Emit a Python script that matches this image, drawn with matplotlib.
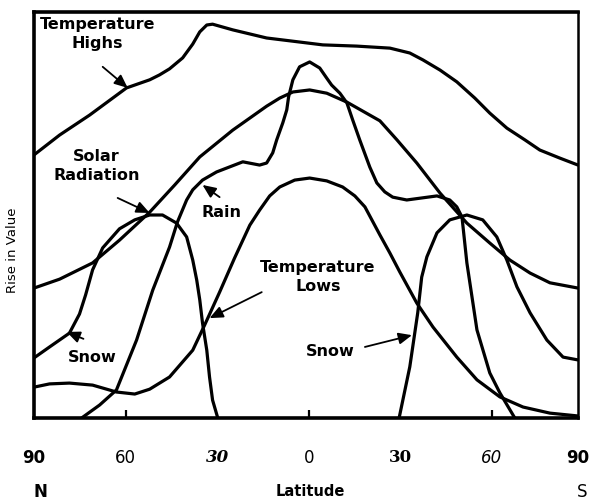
import numpy as np
import matplotlib
matplotlib.use("Agg")
import matplotlib.pyplot as plt

# latitude: negative = north (left), positive = south (right)
highs_lat = [-90, -81.6, -71.8, -59.7, -52.1, -48.9, -45.6, -41.3, -38.0, -35.7, -33.4, -31.5, -24.9,
             -13.8, -6.2, 4.6, 15.7, 26.6, 33.1, 37.4, 43.0, 48.5, 54.4, 59.3, 64.9, 70.8, 75.7,
             82.3, 88.2]
highs_val = [64.8, 69.7, 74.6, 81.3, 83.3, 84.5, 86.0, 88.7, 92.1, 95.1, 96.8, 97.0, 95.6,
             93.6, 92.9, 91.9, 91.6, 91.1, 89.9, 88.2, 85.7, 82.8, 78.8, 75.1, 71.4, 68.5, 66.0,
             64.0, 62.3]

solar_lat = [-90, -81.6, -70.8, -62.0, -52.1, -43.9, -35.7, -24.9, -13.8, -9.5, -5.2, 0.3, 5.9,
             12.5, 23.3, 28.9, 35.4, 43.0, 51.8, 59.3, 65.9, 72.5, 79.0, 88.2]
solar_val = [32.0, 34.2, 38.2, 43.8, 50.7, 57.4, 64.3, 70.9, 76.8, 78.8, 80.3, 80.8, 80.0,
             77.8, 73.2, 68.5, 62.8, 55.4, 48.0, 43.1, 38.9, 35.7, 33.3, 32.0]

rain_lat = [-74.4, -68.5, -63.0, -56.4, -51.1, -45.6, -43.0, -40.0, -38.0, -34.8, -30.2, -21.6,
            -16.1, -13.8, -11.8, -10.5, -8.5, -7.2, -6.6, -5.2, -3.0, 0.3, 3.6, 5.9, 7.5, 10.2,
            12.5, 14.4, 16.7, 20.0, 22.3, 24.9, 27.5, 32.1, 42.0, 46.2, 48.5, 50.2, 51.8, 55.1,
            59.3, 62.6, 67.5]
rain_val = [0, 3.2, 6.9, 19.2, 31.5, 42.1, 48.3, 53.7, 56.2, 58.6, 60.6, 63.1,
            62.3, 62.8, 65.3, 68.5, 72.7, 75.9, 79.1, 83.3, 86.5, 87.7, 86.2, 83.7, 82.0, 80.0,
            77.6, 73.4, 68.5, 61.8, 57.9, 55.7, 54.4, 53.7, 54.7, 53.7, 52.0, 49.5, 38.2, 21.7,
            11.1, 6.2, 0]

lows_lat = [-90, -84.9, -78.4, -70.8, -63.0, -57.0, -52.1, -45.6, -38.0, -34.1, -29.2, -24.3,
            -19.3, -16.1, -12.8, -9.5, -4.6, 0.3, 5.9, 11.1, 15.1, 18.4, 23.3, 26.6, 29.8, 35.4,
            40.7, 48.5, 55.1, 62.6, 70.2, 79.0, 88.2]
lows_val = [7.6, 8.4, 8.6, 8.1, 6.4, 5.9, 7.1, 10.1, 16.7, 22.9, 31.0, 39.4,
            47.5, 51.2, 54.7, 56.9, 58.6, 59.1, 58.4, 56.9, 54.7, 52.0, 45.1, 40.6, 36.0, 28.3,
            22.4, 15.0, 9.4, 5.2, 2.7, 1.2, 0.5]

snow_n_lat = [-90, -84.9, -78.4, -75.1, -73.1, -70.8, -67.5, -62.0, -57.0, -52.1, -47.9, -43.3,
              -40.0, -38.0, -36.7, -35.7, -34.8, -33.4, -32.5, -31.5, -29.8]
snow_n_val = [14.8, 17.5, 20.9, 25.6, 30.3, 36.5, 41.9, 46.6, 48.8, 50.0, 50.0, 48.0,
              44.6, 38.9, 34.0, 29.1, 23.4, 16.7, 10.1, 4.4, 0]

snow_s_lat = [29.6, 33.1, 35.7, 37.0, 38.7, 42.0, 46.2, 51.8, 57.0, 61.6, 64.9, 68.2,
              72.5, 78.0, 83.3, 88.2]
snow_s_val = [0, 12.6, 25.9, 34.7, 39.7, 45.6, 48.8, 50.0, 48.8, 44.6, 38.9, 32.3,
              25.9, 19.2, 15.0, 14.3]

tick_pos = [-90, -60, -30, 0, 30, 60, 88.2]
tick_labels = ['90', '60', '30', '0', '30', '60', '90']

fig = plt.figure(figsize=(5.93, 5.01), dpi=100)
ax = fig.add_axes([34 / 593, 1 - 418 / 501, 544 / 593, 406 / 501])

lw = 2.3
for xs, ys in [(highs_lat, highs_val), (solar_lat, solar_val), (rain_lat, rain_val),
               (lows_lat, lows_val), (snow_n_lat, snow_n_val), (snow_s_lat, snow_s_val)]:
    ax.plot(xs, ys, color='black', lw=lw, solid_joinstyle='round', solid_capstyle='round')

ax.set_xlim(-90, 88.2)
ax.set_ylim(0, 100)
ax.set_yticks([])
for side in ['left', 'bottom', 'top']:
    ax.spines[side].set_linewidth(2.6)
ax.spines['right'].set_linewidth(1.8)

ax.xaxis.remove_overlapping_locs = False
ax.set_xticks(tick_pos)
ax.set_xticklabels(tick_labels)
ax.tick_params(axis='x', length=0, pad=22)
ax.set_xticks([-60, 0, 60], minor=True)
ax.tick_params(axis='x', which='minor', direction='in', length=6, width=1.6)

styles = [('DejaVu Sans', 'normal', 'bold'), ('DejaVu Sans', 'normal', 'normal'),
          ('DejaVu Serif', 'italic', 'bold'), ('DejaVu Sans', 'normal', 'normal'),
          ('DejaVu Serif', 'normal', 'bold'), ('DejaVu Sans', 'italic', 'normal'),
          ('DejaVu Sans', 'normal', 'bold')]
for lab, (fam, sty, wt) in zip(ax.get_xticklabels(), styles):
    lab.set_fontfamily(fam)
    lab.set_fontstyle(sty)
    lab.set_fontweight(wt)
    lab.set_fontsize(12)

fig.text(40 / 593, 1 - 492 / 501, 'N', ha='center', va='center', fontsize=12, fontweight='bold')
fig.text(310 / 593, 1 - 492 / 501, 'Latitude', ha='center', va='center', fontsize=10.5, fontweight='bold')
fig.text(582 / 593, 1 - 492 / 501, 'S', ha='center', va='center', fontsize=12)
fig.text(13 / 593, 1 - 250 / 501, 'Rise in Value', rotation=90, ha='center', va='center', fontsize=9.5)

arrow = dict(arrowstyle='-|>,head_length=0.8,head_width=0.35', color='black', lw=1.3, shrinkA=0, shrinkB=0)
txt = dict(ha='center', va='center', fontsize=11.5, fontweight='bold', linespacing=1.35)

ax.text(-69.2, 94.5, 'Temperature\nHighs', **txt)
ax.annotate('', xy=(-59.3, 81.3), xytext=(-67.5, 86.5), arrowprops=arrow)
ax.text(-69.5, 62.1, 'Solar\nRadiation', **txt)
ax.annotate('', xy=(-52.1, 50.5), xytext=(-62.6, 54.2), arrowprops=arrow)
ax.text(-28.5, 50.5, 'Rain', **txt)
ax.annotate('', xy=(-34.8, 57.4), xytext=(-29.2, 54.4), arrowprops=arrow)
ax.text(3.0, 34.7, 'Temperature\nLows', **txt)
ax.annotate('', xy=(-32.5, 24.6), xytext=(-15.4, 31.0), arrowprops=arrow)
ax.text(-70.8, 15.0, 'Snow', **txt)
ax.annotate('', xy=(-79.3, 21.2), xytext=(-73.8, 19.5), arrowprops=arrow)
ax.text(6.9, 16.3, 'Snow', **txt)
ax.annotate('', xy=(33.8, 20.4), xytext=(18.4, 17.5), arrowprops=arrow)

fig.savefig('out.png', dpi=100)
